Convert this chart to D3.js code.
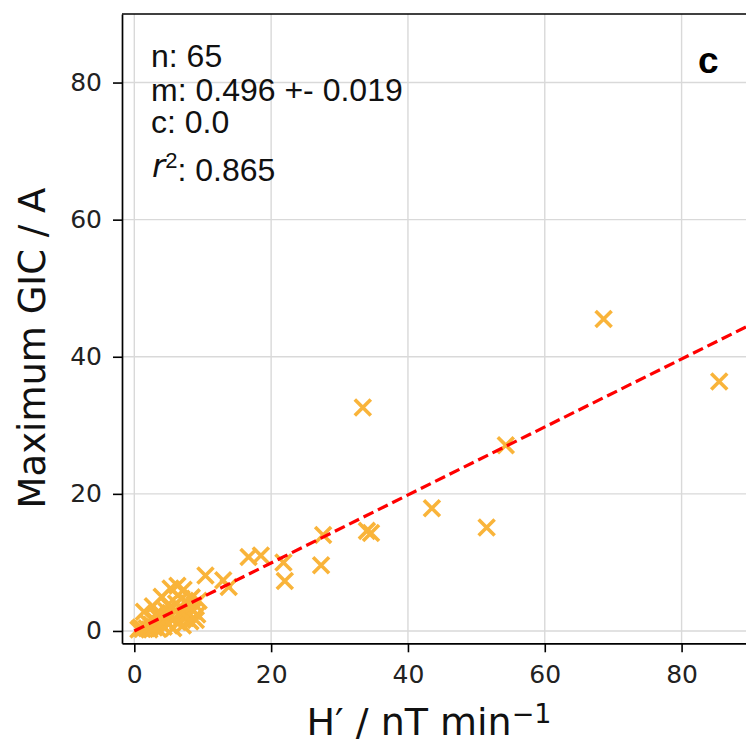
<!DOCTYPE html>
<html>
<head>
<meta charset="utf-8">
<script src="https://cdnjs.cloudflare.com/ajax/libs/d3/7.8.5/d3.min.js"></script>
<style>
  body { margin: 0; background: #fff; }
  .tick text { font-family: "DejaVu Sans", sans-serif; font-size: 25px; fill: #222; }
</style>
</head>
<body>
<script>
// H' (nT/min) and maximum GIC (A), one entry per event
var hPrime = [68.6, 85.5, 33.4, 54.3, 43.5, 51.5, 34.0, 34.6, 27.6, 27.3,
    22.0, 21.8, 16.7, 18.5, 10.4, 13.0, 13.8,
    0.6, 0.9, 1.2, 1.4, 1.8, 2.0, 2.2, 2.5, 2.7, 2.9,
    3.1, 3.3, 3.5, 3.6, 3.8, 4.0, 4.0, 4.3, 4.5, 4.7,
    4.9, 5.0, 5.2, 5.3, 5.5, 5.7, 5.8, 6.0, 6.1, 6.3,
    6.4, 6.6, 6.8, 6.9, 7.1, 7.2, 7.2, 7.5, 7.7, 7.9,
    8.0, 8.2, 8.4, 8.6, 8.8, 9.0, 9.2, 9.4];
var gicMax = [45.5, 36.4, 32.6, 27.1, 17.9, 15.1, 14.6, 14.3, 14.0, 9.6,
    7.3, 10.0, 10.8, 11.0, 8.1, 7.4, 6.4,
    0.2, 0.5, 0.3, 2.8, 0.4, 1.2, 0.2, 0.9, 3.6, 0.5,
    1.4, 2.6, 0.3, 1.9, 1.1, 2.4, 5.0, 0.6, 1.6, 2.9,
    3.8, 1.0, 2.2, 6.2, 3.4, 0.4, 1.8, 2.8, 4.0, 6.6,
    1.3, 3.5, 2.3, 4.7, 0.8, 3.1, 6.0, 1.9, 4.2, 2.6,
    3.6, 1.4, 4.9, 2.9, 3.9, 1.6, 2.4, 4.4];

var xTicks = [0, 20, 40, 60, 80];
var yTicks = [0, 20, 40, 60, 80];
var slope = 0.496, intercept = 0.0;
var statLines = ["n: 65", "m: 0.496 +- 0.019", "c: 0.0"];
var r2Value = ": 0.865";
var panelLabel = "c";

var svg = d3.select("body")
    .append("svg")
    .attr("width", 746)
    .attr("height", 743)
    .style("display", "block");

var pLeft = 122, pTop = 14, pRight = 750, pBottom = 643.3;

var x = d3.scaleLinear().domain([-1.8, 90]).range([pLeft, pRight]);
var y = d3.scaleLinear().domain([-1.8, 90]).range([pBottom, pTop]);

svg.append("defs").append("clipPath").attr("id", "plotclip")
    .append("rect")
    .attr("x", pLeft).attr("y", pTop)
    .attr("width", pRight - pLeft).attr("height", pBottom - pTop);

// grid
var grid = svg.append("g");
grid.selectAll(".gx").data(xTicks).enter().append("line")
    .attr("x1", function (d) { return x(d); })
    .attr("x2", function (d) { return x(d); })
    .attr("y1", pTop).attr("y2", pBottom)
    .attr("stroke", "#d9d9d9").attr("stroke-width", 1.4);
grid.selectAll(".gy").data(yTicks).enter().append("line")
    .attr("y1", function (d) { return y(d); })
    .attr("y2", function (d) { return y(d); })
    .attr("x1", pLeft).attr("x2", pRight)
    .attr("stroke", "#d9d9d9").attr("stroke-width", 1.4);

// x markers
var pts = d3.range(hPrime.length);
var s = 8;
var marks = svg.append("g").attr("clip-path", "url(#plotclip)");
marks.selectAll("path.pt")
    .data(pts)
    .enter()
    .append("path")
    .attr("class", "pt")
    .attr("d", function (i) {
        var cx = x(hPrime[i]), cy = y(gicMax[i]);
        return "M" + (cx - s) + "," + (cy - s) + "L" + (cx + s) + "," + (cy + s) +
            "M" + (cx - s) + "," + (cy + s) + "L" + (cx + s) + "," + (cy - s);
    })
    .attr("stroke", "#f9b43a")
    .attr("stroke-width", 3.6)
    .attr("fill", "none");

// fit line
marks.append("line")
    .attr("x1", x(0)).attr("y1", y(intercept))
    .attr("x2", x(95)).attr("y2", y(intercept + slope * 95))
    .attr("stroke", "red")
    .attr("stroke-width", 3.2)
    .attr("stroke-dasharray", "11,5");

// axes
var xAxis = d3.axisBottom(x).tickValues(xTicks).tickSize(9).tickSizeOuter(0).tickPadding(13);
var yAxis = d3.axisLeft(y).tickValues(yTicks).tickSize(9).tickSizeOuter(0).tickPadding(11);

svg.append("g")
    .attr("transform", "translate(0," + pBottom + ")")
    .call(xAxis)
    .call(function (g) {
        g.select(".domain").attr("stroke", "#000").attr("stroke-width", 1.7);
        g.selectAll(".tick line").attr("stroke", "#000").attr("stroke-width", 1.6);
    });
svg.append("g")
    .attr("transform", "translate(" + pLeft + ",0)")
    .call(yAxis)
    .call(function (g) {
        g.select(".domain").attr("stroke", "#000").attr("stroke-width", 1.7);
        g.selectAll(".tick line").attr("stroke", "#000").attr("stroke-width", 1.6);
    });
svg.append("line")
    .attr("x1", pLeft).attr("x2", pRight)
    .attr("y1", pTop).attr("y2", pTop)
    .attr("stroke", "#000").attr("stroke-width", 1.7);

// axis labels
var xl = svg.append("text")
    .attr("x", (pLeft + pRight) / 2 - 7)
    .attr("y", 735)
    .attr("text-anchor", "middle")
    .style("font-family", "DejaVu Sans")
    .style("font-size", "38px")
    .attr("fill", "#111");
xl.append("tspan").text("H\u2032 / nT min");
xl.append("tspan").attr("dy", "-0.45em").style("font-size", "27px").text("\u22121");

svg.append("text")
    .attr("transform", "translate(45,348) rotate(-90)")
    .attr("text-anchor", "middle")
    .style("font-family", "DejaVu Sans")
    .style("font-size", "37px")
    .attr("fill", "#111")
    .text("Maximum GIC / A");

// fit statistics
var statY = [66.5, 100.5, 133];
svg.selectAll(".stat")
    .data(statLines)
    .enter()
    .append("text")
    .attr("class", "stat")
    .attr("x", 151)
    .attr("y", function (d, i) { return statY[i]; })
    .style("font-family", "Liberation Sans, Arial, sans-serif")
    .style("font-size", "32px")
    .attr("fill", "#111")
    .text(function (d) { return d; });

var r2 = svg.append("text")
    .attr("x", 152)
    .attr("y", 176.5)
    .style("font-family", "Liberation Sans, Arial, sans-serif")
    .style("font-size", "32px")
    .attr("fill", "#111");
r2.append("tspan").style("font-style", "italic").style("font-family", "DejaVu Sans").text("r");
r2.append("tspan").attr("dy", "-0.4em").style("font-size", "22px").text("2");
r2.append("tspan").attr("dy", "0.4em").text(r2Value);

svg.append("text")
    .attr("x", 698)
    .attr("y", 72.5)
    .style("font-family", "Liberation Sans, Arial, sans-serif")
    .style("font-size", "37px")
    .style("font-weight", "bold")
    .attr("fill", "#000")
    .text(panelLabel);
</script>
</body>
</html>
